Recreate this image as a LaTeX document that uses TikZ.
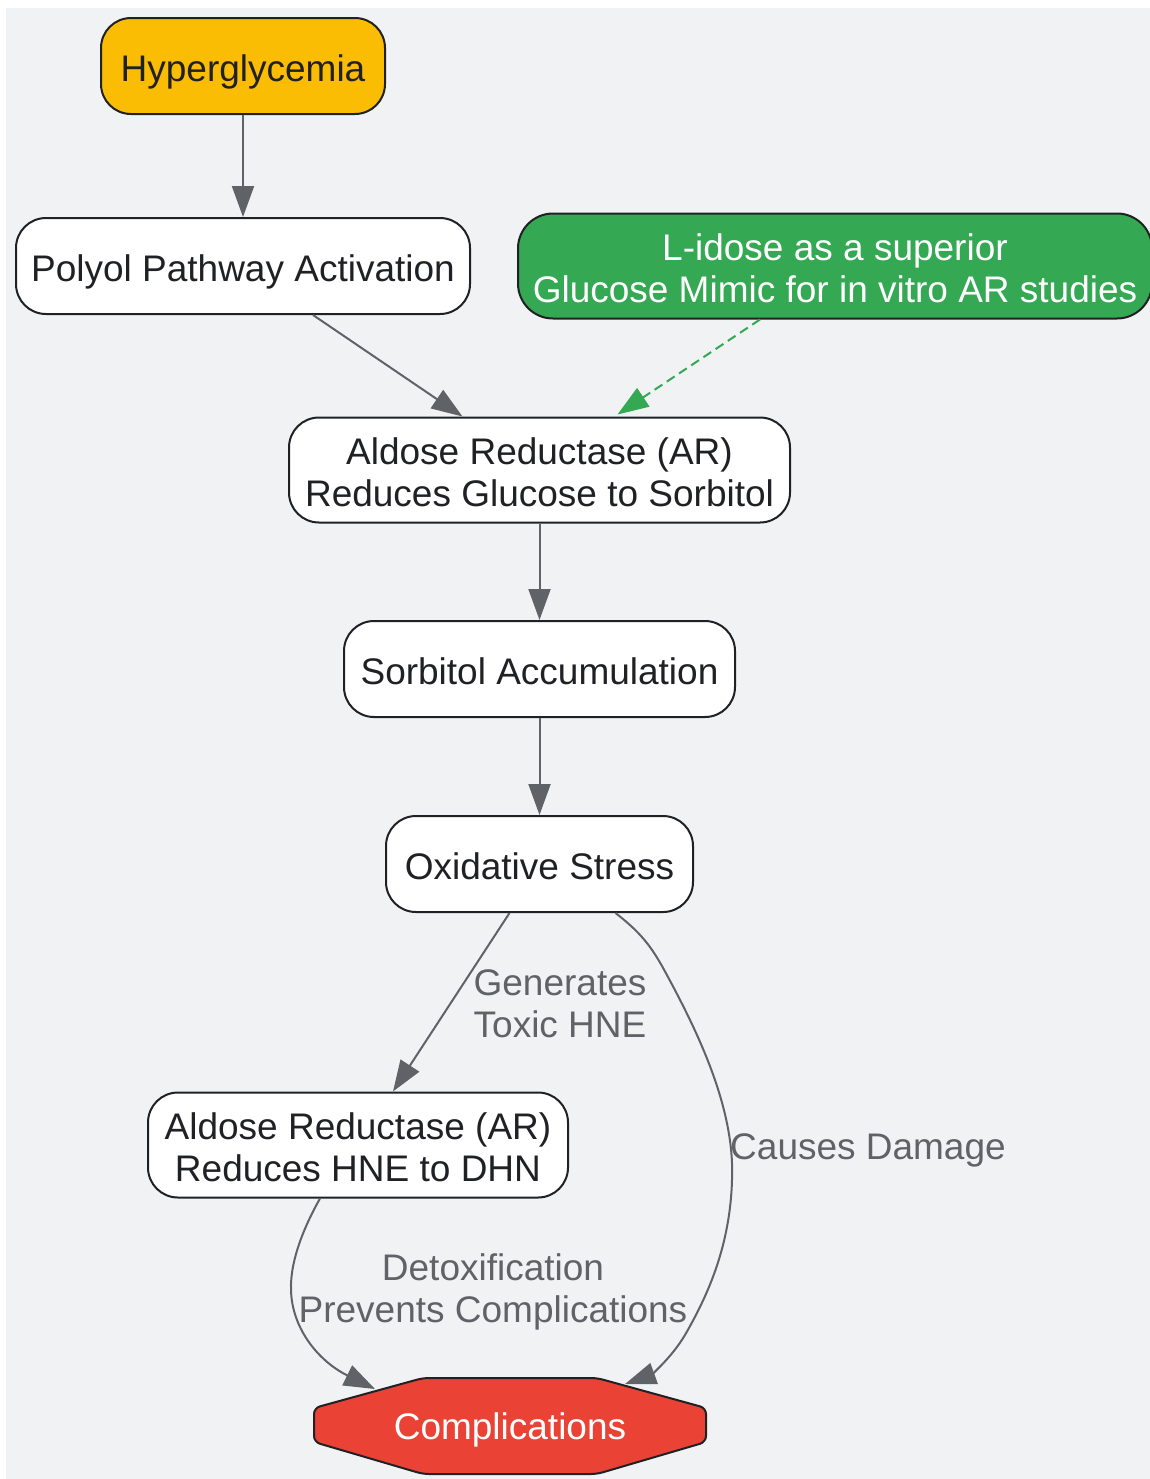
\documentclass[tikz,border=0pt]{standalone}
\usepackage{fontspec}
\setmainfont{Liberation Sans}
\usetikzlibrary{arrows.meta}

\definecolor{canvasGrey}{HTML}{F1F2F4}
\definecolor{inkDark}{HTML}{202124}
\definecolor{edgeGrey}{HTML}{5F6368}
\definecolor{hyperYellow}{HTML}{FBBC04}
\definecolor{idoseGreen}{HTML}{34A853}
\definecolor{compRed}{HTML}{EA4335}

\newcommand{\px}{0.75pt}
\newcommand{\boxHeight}{96*\px}
\newcommand{\tallHeight}{105*\px}

\tikzset{
  oneline/.style={text height=29.25pt, text depth=6.75pt, align=center, inner sep=0pt},
  twoline/.style={text height=60.75pt, text depth=6.75pt, align=center, inner sep=0pt},
  stage/.style={draw=inkDark, line width=2*\px, fill=white, text=inkDark,
    rounded corners=30*\px, minimum height=\boxHeight},
  flow/.style={draw=edgeGrey, line width=2*\px,
    -{Triangle[length=31*\px, width=22*\px]}},
  flowlabel/.style={text=edgeGrey}
}

\begin{document}
\begin{tikzpicture}[x=\px, y=-\px, font=\fontsize{27.75pt}{31.5pt}\selectfont]
  \useasboundingbox (0,0) rectangle (1150,1479);
  \fill [canvasGrey] (6,8) rectangle (1150,1479);

  \node[stage, oneline, fill=hyperYellow, minimum width=284*\px] (hyper) at (243,66) {Hyperglycemia};
  \node[stage, oneline, minimum width=454*\px] (polyol) at (243,266) {Polyol Pathway Activation};
  \node[stage, twoline, fill=idoseGreen, text=white, minimum width=634*\px, minimum height=\tallHeight,
        rounded corners=35*\px] (idose) at (835,266) {L-idose as a superior\\Glucose Mimic for in vitro AR studies};
  \node[stage, twoline, minimum width=501*\px, minimum height=\tallHeight] (arGlucose) at (539.5,470)
        {Aldose Reductase (AR)\\Reduces Glucose to Sorbitol};
  \node[stage, oneline, minimum width=391*\px] (sorbitol) at (539.5,669) {Sorbitol Accumulation};
  \node[stage, oneline, minimum width=307*\px] (oxid) at (539.5,864) {Oxidative Stress};
  \node[stage, twoline, minimum width=420*\px, minimum height=\tallHeight] (arHne) at (358,1145)
        {Aldose Reductase (AR)\\Reduces HNE to DHN};

  % complications: cut-corner box
  \filldraw[fill=compRed, draw=inkDark, line width=2*\px, rounded corners=6*\px]
    (314,1408) -- (423,1378) -- (597,1378) -- (706,1408) --
    (706,1442) -- (597,1474) -- (423,1474) -- (314,1442) -- cycle;
  \node[oneline, text=white] (comp) at (510,1424) {Complications};
  \coordinate (compLeft) at (375,1389);
  \coordinate (compRight) at (625,1384);

  \draw[flow] (hyper) -- (polyol);
  \draw[flow] ([xshift=70*\px]polyol.south) -- ([xshift=-77*\px]arGlucose.north);
  \draw[draw=idoseGreen, line width=2*\px, dash pattern=on 7pt off 4pt,
        -{Triangle[length=31*\px, width=22*\px]}]
    ([xshift=-75*\px]idose.south) -- ([xshift=78*\px, yshift=2*\px]arGlucose.north);
  \draw[flow] (arGlucose) -- (sorbitol);
  \draw[flow] (sorbitol) -- (oxid);
  \draw[flow] ([xshift=-30*\px]oxid.south) -- ([xshift=35*\px]arHne.north);

  \draw[flow] ([xshift=76*\px]oxid.south) .. controls (640,932) and (650,945) .. (662,966)
    .. controls (700,1035) and (735,1110) .. (732,1180)
    .. controls (730,1250) and (705,1300) .. (685,1335)
    .. controls (670,1360) and (650,1375) .. (compRight);
  \draw[flow] ([xshift=-38*\px]arHne.south) .. controls (305,1225) and (290,1260) .. (291,1290)
    .. controls (292,1330) and (320,1362) .. (compLeft);

  \node[flowlabel, twoline] (lblToxic) at (560,1001) {Generates\\Toxic HNE};
  \node[flowlabel, oneline] (lblDamage) at (868,1144) {Causes Damage};
  \node[flowlabel, twoline] (lblDetox) at (493,1286) {Detoxification\\Prevents Complications};
\end{tikzpicture}
\end{document}
